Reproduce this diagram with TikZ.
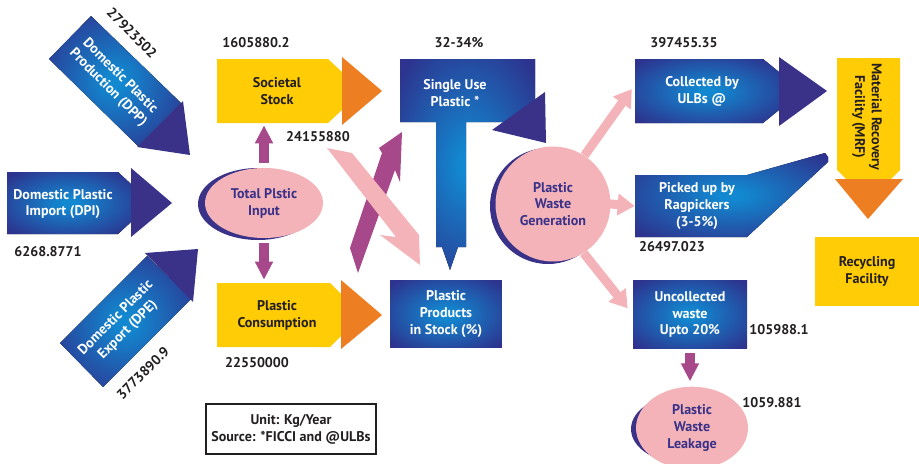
\documentclass[tikz,border=0pt]{standalone}
\usepackage{fontspec}
\setmainfont{PT Sans}
\usetikzlibrary{arrows.meta,shapes.geometric}

\definecolor{dkblue}{HTML}{393288}
\definecolor{bluein}{HTML}{1288D0}
\definecolor{blueout}{HTML}{2D338E}
\definecolor{ylw}{HTML}{FFCC05}
\definecolor{orng}{HTML}{EE7E22}
\definecolor{pnk}{HTML}{F4B3B8}
\definecolor{mgnt}{HTML}{A6488A}
\definecolor{numtext}{HTML}{231F20}

\pgfdeclareradialshading{bluebox}{\pgfpoint{0bp}{0bp}}{color(0bp)=(bluein); color(3bp)=(bluein); color(33bp)=(blueout); color(50bp)=(blueout)}

\tikzset{
  lbl/.style={font=\fontsize{8}{9.6}\selectfont\bfseries, align=center},
  wlbl/.style={lbl, text=white},
  num/.style={font=\fontsize{8}{9.6}\selectfont\bfseries, text=numtext},
  bluefill/.style={shading=bluebox},
  magarrow/.style={draw=mgnt, line width=0.2cm, -{Triangle[width=0.34cm,length=0.36cm]}},
  pinkarrow/.style={draw=pnk, line width=0.18cm, -{Triangle[width=0.42cm,length=0.34cm]}}
}

\begin{document}
\begin{tikzpicture}[x=0.02cm, y=-0.02cm]
    \fill[white] (0,0) rectangle (919,463);
    \useasboundingbox (0,0) rectangle (919,463);

    \fill[bluefill] (91,16) -- (49,59) -- (138,146) -- (181,103) -- cycle;
    \fill[dkblue] (183,101) -- (137,147) -- (190,155) -- cycle;
    \node[wlbl, rotate=-45] (dpp) at (114,82) {Domestic Plastic\\Production (DPP)};
    \node[num, rotate=-45] (dppv) at (132,33) {27923502};

    \fill[bluefill] (7,172) -- (118,172) -- (131,184) -- (131,222) -- (118,234) -- (7,234) -- cycle;
    \fill[dkblue] (131,168) -- (172,203) -- (131,237) -- cycle;
    \node[wlbl] (dpi) at (63,204) {Domestic Plastic\\Import (DPI)};
    \node[num] (dpiv) at (48,252) {6268.8771};

    \fill[bluefill] (60,343) -- (147,256) -- (191,299) -- (103,387) -- cycle;
    \fill[dkblue] (145,253) -- (198,249) -- (193,302) -- cycle;
    \node[wlbl, rotate=45] (dpe) at (122,324) {Domestic Plastic\\Export (DPE)};
    \node[num, rotate=45] (dpev) at (143,373) {3773890.9};

    \fill[dkblue] (258,204) ellipse (60 and 36);
    \node[ellipse, fill=pnk, minimum width=2.36cm, minimum height=1.4cm, lbl, text=dkblue] (tpi) at (264,203) {Total Plstic\\Input};

    \fill[ylw] (217,59) -- (328,59) -- (342,72) -- (342,110) -- (328,123) -- (217,123) -- cycle;
    \fill[orng] (342,57) -- (382,91) -- (342,125) -- cycle;
    \node[lbl, text=numtext, minimum height=1.28cm] (ss) at (277,91) {Societal\\Stock};
    \node[num] (ssv) at (256,43) {1605880.2};
    \node[num] (ssv2) at (318,137) {24155880};

    \fill[ylw] (217,283) -- (330,283) -- (341,294) -- (341,336) -- (330,347) -- (217,347) -- cycle;
    \fill[orng] (341,280) -- (382,315) -- (341,349) -- cycle;
    \node[lbl, text=numtext, minimum height=1.28cm] (pc) at (277,315) {Plastic\\Consumption};
    \node[num] (pcv) at (257,363) {22550000};

    \node[draw=numtext, line width=1.1pt, minimum width=3.28cm, minimum height=1cm, lbl, text=numtext] (unit) at (291,429) {Unit: Kg/Year\\Source: *FICCI and @ULBs};

    \draw[magarrow, shorten <=0.1cm, shorten >=0.04cm] (tpi.north) -- (tpi.north |- ss.south);
    \draw[magarrow, shorten <=0.1cm, shorten >=0.06cm] (tpi.south) -- (tpi.south |- pc.north);

    \fill[mgnt] (358,273) -- (350,248) -- (382,153) -- (379,148) -- (402,132) -- (400,182) -- (395,170) -- cycle;
    \fill[pnk] (327,148) -- (352,153) -- (419,235) -- (420,265) -- (380,235) -- (396,237) -- cycle;

    \fill[bluefill] (400,59) -- (535,59) -- (535,122) -- (466,122) -- (466,247) -- (458,247) -- (450,270) -- (442,247) -- (436,247) -- (436,122) -- (400,122) -- cycle;
    \fill[dkblue] (492,130) -- (545,92) -- (546,143) -- cycle;
    \node[wlbl] (sup) at (455,93) {Single Use\\Plastic *};
    \node[num] (supv) at (459,43) {32-34\%};

    \node[bluefill, minimum width=2.24cm, minimum height=1.36cm, wlbl] (pps) at (446,314) {Plastic\\Products\\in Stock (\%)};

    \fill[dkblue] (548,206) circle (58);
    \node[circle, fill=pnk, minimum size=2.3cm, lbl, text=dkblue] (pwg) at (553,204) {Plastic\\Waste\\Generation};

    \fill[bluefill] (635,59) -- (763,59) -- (779,72) -- (779,110) -- (763,123) -- (635,123) -- cycle;
    \fill[dkblue] (779,57) -- (827,91) -- (779,126) -- cycle;
    \node[wlbl, minimum width=2.68cm, minimum height=1.28cm] (cu) at (702,91) {Collected by\\ULBs @};
    \node[num] (cuv) at (684,43) {397455.35};

    \fill[bluefill] (635,175) -- (747,175) -- (825,153) -- (828,157) -- (828,162) -- (747,237) -- (635,237) -- cycle;
    \node[wlbl, minimum width=2.48cm] (rp) at (697,206) {Picked up by\\Ragpickers\\(3-5\%)};
    \node[num] (rpv) at (672,247) {26497.023};

    \fill[ylw] (837,58) -- (900,58) -- (900,170) -- (891,179) -- (846,179) -- (837,170) -- cycle;
    \fill[orng] (835,179) -- (903,179) -- (868,219) -- cycle;
    \node[lbl, text=numtext, rotate=-90] (mrf) at (867,117) {Material Recovery\\Facility (MRF)};

    \node[fill=ylw, minimum width=2.08cm, minimum height=1.38cm, lbl, text=numtext] (rf) at (867,271.5) {Recycling\\Facility};

    \node[bluefill, minimum width=2.28cm, minimum height=1.38cm, wlbl] (uw) at (690,314.5) {Uncollected\\waste\\Upto 20\%};
    \node[num] (uwv) at (779,330) {105988.1};

    \fill[dkblue] (687,429) ellipse (56 and 35);
    \node[ellipse, fill=pnk, minimum width=2.24cm, minimum height=1.4cm, lbl, text=dkblue] (lk) at (692,428) {Plastic\\Waste\\Leakage};
    \node[num] (lkv) at (772,403) {1059.881};

    \draw[pinkarrow, shorten >=0.1cm] (pwg.57) -- (cu.175);
    \draw[pinkarrow, shorten <=-0.04cm] (pwg.east) -- (rp.west);
    \draw[pinkarrow, shorten >=0.16cm] (pwg.-58) -- (uw.west);
    \draw[magarrow, shorten <=0.08cm, shorten >=0.1cm] (uw.south) -- (uw.south |- lk.north);
\end{tikzpicture}
\end{document}
